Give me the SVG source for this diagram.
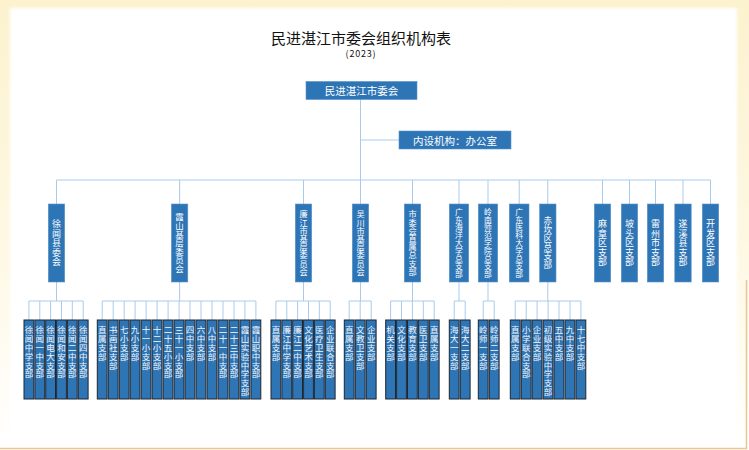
<svg xmlns="http://www.w3.org/2000/svg" width="749" height="450" viewBox="0 0 749 450">
<defs>
<linearGradient id="bg" x1="0" y1="0" x2="0" y2="1">
<stop offset="0" stop-color="#FCF2CE"/>
<stop offset="0.55" stop-color="#FEF8E4"/>
<stop offset="1" stop-color="#FFFFFF"/>
</linearGradient>
<filter id="soft" x="-5%" y="-5%" width="110%" height="110%"><feGaussianBlur stdDeviation="1.5"/></filter>
<style>
.title{font-family:"Noto Sans CJK SC","Liberation Sans",sans-serif;fill:#111;text-anchor:middle}
.box{fill:#2E75B6;stroke:#5A93CC;stroke-width:0.6}
.leaf rect{fill:#2E75B6;stroke:#1E2630;stroke-width:1}
.ht{font-family:"Noto Sans CJK SC","Liberation Sans",sans-serif;fill:#FFFFFF;font-size:10.5px;text-anchor:middle;dominant-baseline:central}
.vt{font-family:"Noto Sans CJK SC","Liberation Sans",sans-serif;fill:#FFFFFF;writing-mode:vertical-rl;text-anchor:middle}
.lt{font-family:"Noto Sans CJK SC","Liberation Sans",sans-serif;fill:#F2F6FB;writing-mode:vertical-rl;text-anchor:start;font-size:8.5px;letter-spacing:0.3px}
.t5{font-size:9px;letter-spacing:0.4px}
.t6{font-size:8.6px;letter-spacing:0.3px}
.t7{font-size:8.5px;letter-spacing:0.1px}
.t8{font-size:8.2px}
.t9{font-size:7.8px}
#connectors path{fill:none;stroke:#A9CBEB;stroke-width:1}
</style>
</defs>
<rect x="0" y="0" width="749" height="450" fill="url(#bg)"/>
<rect x="10" y="8" width="727" height="446" fill="#FFFFFF" filter="url(#soft)"/>
<path d="M0 448.5H746.5V280" fill="none" stroke="#EBC591" stroke-width="1.5"/>

<text class="title" x="361" y="43.5" font-size="15">民进湛江市委会组织机构表</text>
<text class="title" x="361" y="56.5" font-size="9" letter-spacing="0.8">(2023)</text>

<g id="connectors">
<path d="M360.5 99V180M360.5 140H399M56.5 180H710.5"/>
<path d="M56.5 180V204M179.6 180V204M303.5 180V204M360.5 180V204M412.5 180V204M459 180V204M488 180V204M519.2 180V204M547.8 180V204M602.5 180V204M629.5 180V204M655.5 180V204M683 180V204M710.5 180V204"/>
<path d="M56.5 282V301M28.9 301H83.2M28.9 301V320M39.8 301V320M50.6 301V320M61.5 301V320M72.3 301V320M83.2 301V320"/>
<path d="M179.6 282V301M102.2 301H255.9M102.2 301V320M113.2 301V320M124.2 301V320M135.1 301V320M146.1 301V320M157.1 301V320M168.1 301V320M179.1 301V320M190 301V320M201 301V320M212 301V320M223 301V320M234 301V320M244.9 301V320M255.9 301V320"/>
<path d="M303.5 282V301M275.9 301H330.2M275.9 301V320M286.8 301V320M297.6 301V320M308.5 301V320M319.3 301V320M330.2 301V320"/>
<path d="M360.5 282V301M349.2 301H371.2M349.2 301V320M360.2 301V320M371.2 301V320"/>
<path d="M412.5 282V301M390.6 301H434.2M390.6 301V320M401.5 301V320M412.4 301V320M423.3 301V320M434.2 301V320"/>
<path d="M459 282V301M454.2 301H465.2M454.2 301V320M465.2 301V320"/>
<path d="M488 282V301M483.2 301H494.2M483.2 301V320M494.2 301V320"/>
<path d="M547.8 282V301M515.2 301H580.9M515.2 301V320M526.2 301V320M537.1 301V320M548.1 301V320M559 301V320M570 301V320M580.9 301V320"/>
</g>

<g id="root"><rect class="box" x="306" y="81.5" width="111" height="18"/><text class="ht" x="361.5" y="90.5">民进湛江市委会</text></g>
<g id="office"><rect class="box" x="399" y="131" width="112" height="18"/><text class="ht" x="455" y="140">内设机构：办公室</text></g>

<g id="n-xuwen"><rect class="box" x="48.3" y="204" width="16.4" height="78"/><text class="vt t5" x="56.5" y="243">徐闻县委会</text></g>
<g id="n-xiashan"><rect class="box" x="171.4" y="204" width="16.4" height="78"/><text class="vt t7" x="179.6" y="243">霞山基层委员会</text></g>
<g id="n-lianjiang"><rect class="box" x="295.3" y="204" width="16.4" height="78"/><text class="vt t8" x="303.5" y="243">廉江市基层委员会</text></g>
<g id="n-wuchuan"><rect class="box" x="352.3" y="204" width="16.4" height="78"/><text class="vt t8" x="360.5" y="243">吴川市基层委员会</text></g>
<g id="n-zhishu"><rect class="box" x="404.3" y="204" width="16.4" height="78"/><text class="vt t8" x="412.5" y="243">市委会直属总支部</text></g>
<g id="n-haida"><rect class="box" x="449.3" y="204" width="19.4" height="78"/><text class="vt t9" x="459" y="243">广东海洋大学总支部</text></g>
<g id="n-lingshi"><rect class="box" x="478.3" y="204" width="19.4" height="78"/><text class="vt t9" x="488" y="243">岭南师范学院总支部</text></g>
<g id="n-yike"><rect class="box" x="509.3" y="204" width="19.7" height="78"/><text class="vt t9" x="519.2" y="243">广东医科大学总支部</text></g>
<g id="n-chikan"><rect class="box" x="539.6" y="204" width="16.4" height="78"/><text class="vt t6" x="547.8" y="243">赤坎区总支部</text></g>
<g id="n-mazhang"><rect class="box" x="594.3" y="204" width="16.4" height="78"/><text class="vt t5" x="602.5" y="243">麻章区支部</text></g>
<g id="n-potou"><rect class="box" x="621.3" y="204" width="16.4" height="78"/><text class="vt t5" x="629.5" y="243">坡头区支部</text></g>
<g id="n-leizhou"><rect class="box" x="647.3" y="204" width="16.4" height="78"/><text class="vt t5" x="655.5" y="243">雷州市支部</text></g>
<g id="n-suixi"><rect class="box" x="674.8" y="204" width="16.4" height="78"/><text class="vt t5" x="683" y="243">遂溪县支部</text></g>
<g id="n-kaifa"><rect class="box" x="702.3" y="204" width="16.4" height="78"/><text class="vt t5" x="710.5" y="243">开发区支部</text></g>

<g id="l-xw1" class="leaf"><rect x="24" y="320" width="9.8" height="79"/><text class="lt" x="28.9" y="326">徐闻中学支部</text></g>
<g id="l-xw2" class="leaf"><rect x="34.9" y="320" width="9.8" height="79"/><text class="lt" x="39.8" y="326">徐闻一中支部</text></g>
<g id="l-xw3" class="leaf"><rect x="45.7" y="320" width="9.8" height="79"/><text class="lt" x="50.6" y="326">徐闻电大支部</text></g>
<g id="l-xw4" class="leaf"><rect x="56.6" y="320" width="9.8" height="79"/><text class="lt" x="61.5" y="326">徐闻和安支部</text></g>
<g id="l-xw5" class="leaf"><rect x="67.4" y="320" width="9.8" height="79"/><text class="lt" x="72.3" y="326">徐闻二中支部</text></g>
<g id="l-xw6" class="leaf"><rect x="78.3" y="320" width="9.8" height="79"/><text class="lt" x="83.2" y="326">徐闻四中支部</text></g>

<g id="l-xs1" class="leaf"><rect x="97.3" y="320" width="9.8" height="79"/><text class="lt" x="102.2" y="326">直属支部</text></g>
<g id="l-xs2" class="leaf"><rect x="108.3" y="320" width="9.8" height="79"/><text class="lt" x="113.2" y="326">书画社支部</text></g>
<g id="l-xs3" class="leaf"><rect x="119.3" y="320" width="9.8" height="79"/><text class="lt" x="124.2" y="326">七小支部</text></g>
<g id="l-xs4" class="leaf"><rect x="130.2" y="320" width="9.8" height="79"/><text class="lt" x="135.1" y="326">九小支部</text></g>
<g id="l-xs5" class="leaf"><rect x="141.2" y="320" width="9.8" height="79"/><text class="lt" x="146.1" y="326">十一小支部</text></g>
<g id="l-xs6" class="leaf"><rect x="152.2" y="320" width="9.8" height="79"/><text class="lt" x="157.1" y="326">十二小支部</text></g>
<g id="l-xs7" class="leaf"><rect x="163.2" y="320" width="9.8" height="79"/><text class="lt" x="168.1" y="326">二十五小支部</text></g>
<g id="l-xs8" class="leaf"><rect x="174.2" y="320" width="9.8" height="79"/><text class="lt" x="179.1" y="326">三十一小支部</text></g>
<g id="l-xs9" class="leaf"><rect x="185.1" y="320" width="9.8" height="79"/><text class="lt" x="190" y="326">四中支部</text></g>
<g id="l-xs10" class="leaf"><rect x="196.1" y="320" width="9.8" height="79"/><text class="lt" x="201" y="326">六中支部</text></g>
<g id="l-xs11" class="leaf"><rect x="207.1" y="320" width="9.8" height="79"/><text class="lt" x="212" y="326">八中支部</text></g>
<g id="l-xs12" class="leaf"><rect x="218.1" y="320" width="9.8" height="79"/><text class="lt" x="223" y="326">二十一中支部</text></g>
<g id="l-xs13" class="leaf"><rect x="229.1" y="320" width="9.8" height="79"/><text class="lt" x="234" y="326">二十三中支部</text></g>
<g id="l-xs14" class="leaf"><rect x="240" y="320" width="9.8" height="79"/><text class="lt" x="244.9" y="326">霞山实验中学支部</text></g>
<g id="l-xs15" class="leaf"><rect x="251" y="320" width="9.8" height="79"/><text class="lt" x="255.9" y="326">霞山职中支部</text></g>

<g id="l-lj1" class="leaf"><rect x="271" y="320" width="9.8" height="79"/><text class="lt" x="275.9" y="326">直属支部</text></g>
<g id="l-lj2" class="leaf"><rect x="281.9" y="320" width="9.8" height="79"/><text class="lt" x="286.8" y="326">廉江中学支部</text></g>
<g id="l-lj3" class="leaf"><rect x="292.7" y="320" width="9.8" height="79"/><text class="lt" x="297.6" y="326">廉江二中支部</text></g>
<g id="l-lj4" class="leaf"><rect x="303.6" y="320" width="9.8" height="79"/><text class="lt" x="308.5" y="326">文化艺术支部</text></g>
<g id="l-lj5" class="leaf"><rect x="314.4" y="320" width="9.8" height="79"/><text class="lt" x="319.3" y="326">医疗卫生支部</text></g>
<g id="l-lj6" class="leaf"><rect x="325.3" y="320" width="9.8" height="79"/><text class="lt" x="330.2" y="326">企业联合支部</text></g>

<g id="l-wc1" class="leaf"><rect x="344.3" y="320" width="9.8" height="79"/><text class="lt" x="349.2" y="326">直属支部</text></g>
<g id="l-wc2" class="leaf"><rect x="355.3" y="320" width="9.8" height="79"/><text class="lt" x="360.2" y="326">文教卫支部</text></g>
<g id="l-wc3" class="leaf"><rect x="366.3" y="320" width="9.8" height="79"/><text class="lt" x="371.2" y="326">企业支部</text></g>

<g id="l-zs1" class="leaf"><rect x="385.7" y="320" width="9.8" height="79"/><text class="lt" x="390.6" y="326">机关支部</text></g>
<g id="l-zs2" class="leaf"><rect x="396.6" y="320" width="9.8" height="79"/><text class="lt" x="401.5" y="326">文化支部</text></g>
<g id="l-zs3" class="leaf"><rect x="407.5" y="320" width="9.8" height="79"/><text class="lt" x="412.4" y="326">教育支部</text></g>
<g id="l-zs4" class="leaf"><rect x="418.4" y="320" width="9.8" height="79"/><text class="lt" x="423.3" y="326">医卫支部</text></g>
<g id="l-zs5" class="leaf"><rect x="429.3" y="320" width="9.8" height="79"/><text class="lt" x="434.2" y="326">直属支部</text></g>

<g id="l-hd1" class="leaf"><rect x="449.3" y="320" width="9.8" height="79"/><text class="lt" x="454.2" y="326">海大一支部</text></g>
<g id="l-hd2" class="leaf"><rect x="460.3" y="320" width="9.8" height="79"/><text class="lt" x="465.2" y="326">海大二支部</text></g>

<g id="l-ls1" class="leaf"><rect x="478.3" y="320" width="9.8" height="79"/><text class="lt" x="483.2" y="326">岭师一支部</text></g>
<g id="l-ls2" class="leaf"><rect x="489.3" y="320" width="9.8" height="79"/><text class="lt" x="494.2" y="326">岭师二支部</text></g>

<g id="l-ck1" class="leaf"><rect x="510.3" y="320" width="9.8" height="79"/><text class="lt" x="515.2" y="326">直属支部</text></g>
<g id="l-ck2" class="leaf"><rect x="521.3" y="320" width="9.8" height="79"/><text class="lt" x="526.2" y="326">小学联合支部</text></g>
<g id="l-ck3" class="leaf"><rect x="532.2" y="320" width="9.8" height="79"/><text class="lt" x="537.1" y="326">企业支部</text></g>
<g id="l-ck4" class="leaf"><rect x="543.2" y="320" width="9.8" height="79"/><text class="lt" x="548.1" y="326">初级实验中学支部</text></g>
<g id="l-ck5" class="leaf"><rect x="554.1" y="320" width="9.8" height="79"/><text class="lt" x="559" y="326">五中支部</text></g>
<g id="l-ck6" class="leaf"><rect x="565.1" y="320" width="9.8" height="79"/><text class="lt" x="570" y="326">九中支部</text></g>
<g id="l-ck7" class="leaf"><rect x="576" y="320" width="9.8" height="79"/><text class="lt" x="580.9" y="326">十七中支部</text></g>
</svg>
